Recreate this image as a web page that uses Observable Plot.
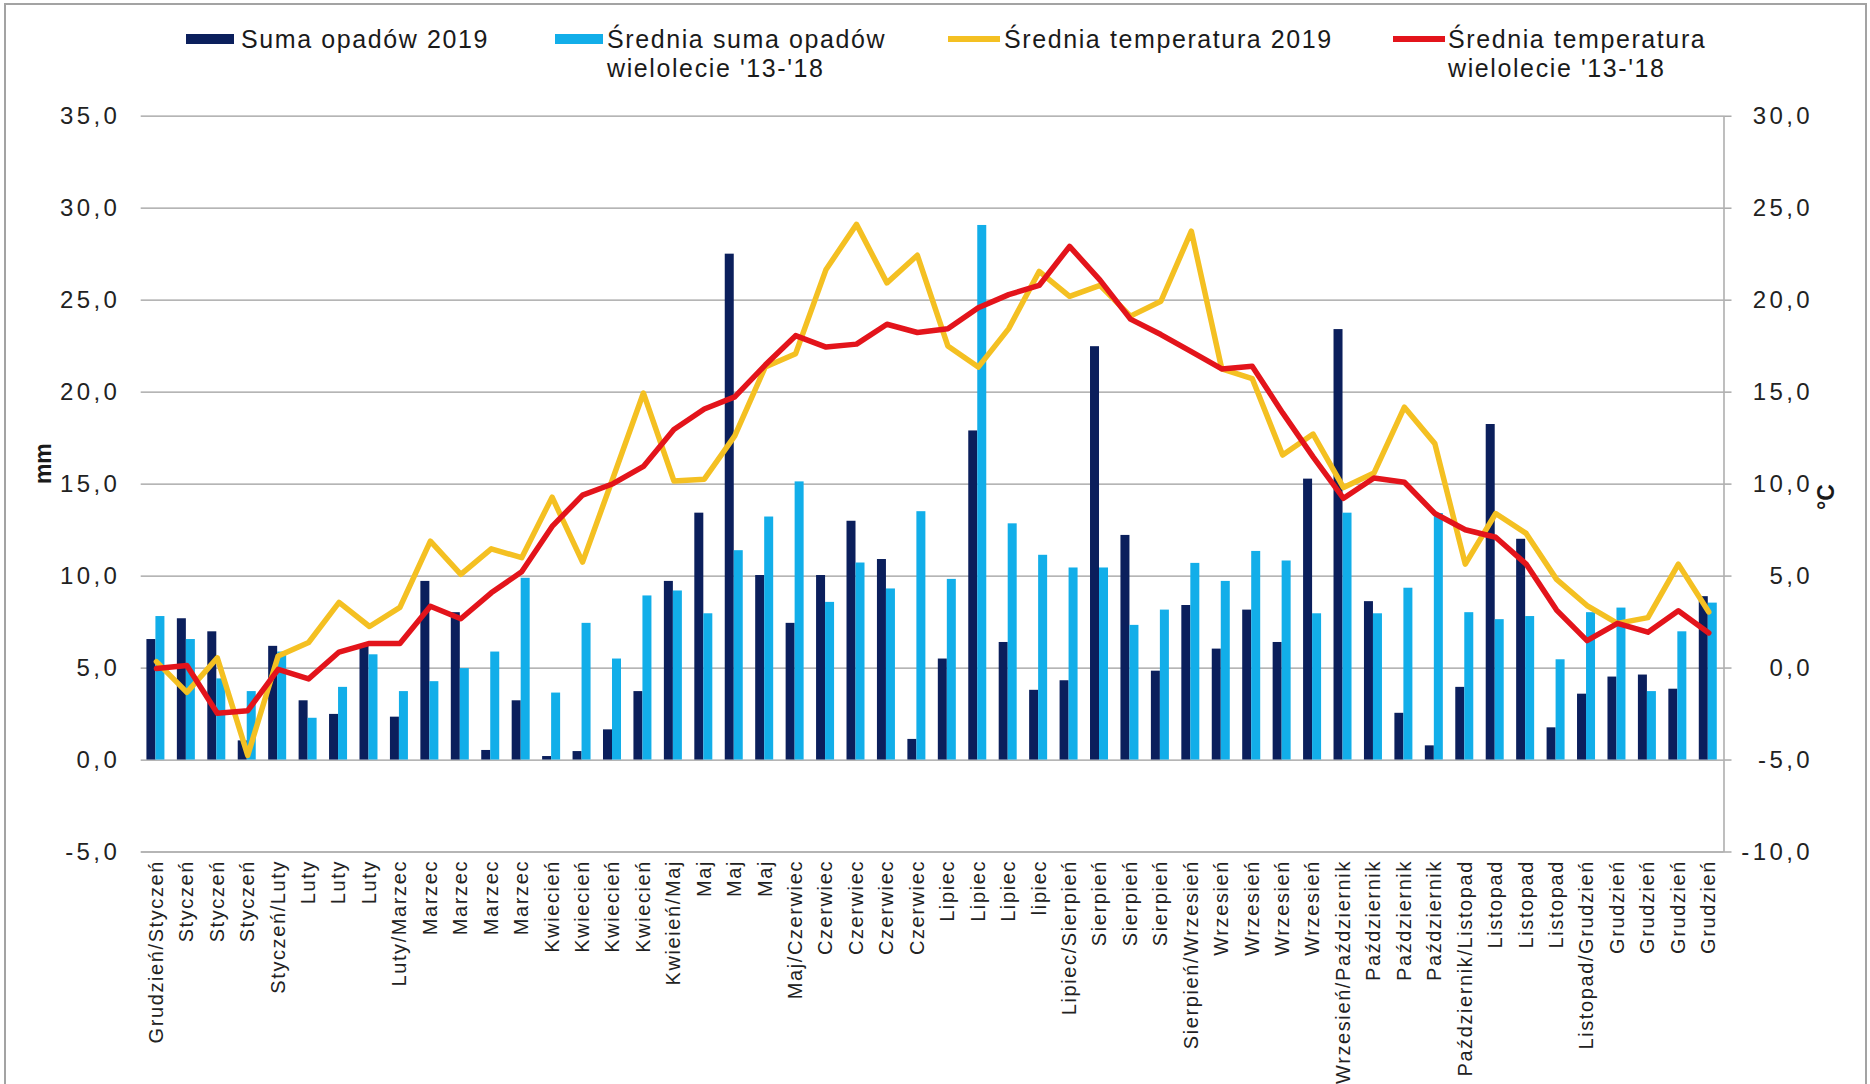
<!DOCTYPE html>
<html>
<head>
<meta charset="utf-8">
<script src="https://cdn.jsdelivr.net/npm/d3@7"></script>
<script src="https://cdn.jsdelivr.net/npm/@observablehq/plot@0.6"></script>
<style>
  html, body { margin: 0; padding: 0; background: #fff; }
  body { width: 1870px; height: 1084px; overflow: hidden; position: relative;
         font-family: "Liberation Sans", Arial, sans-serif; color: #1a1a1a; }
  #border { position: absolute; left: 4px; top: 3px; width: 1863px; height: 1200px;
            border: 2px solid #a3a3a3; box-sizing: border-box; pointer-events: none; }
  #legend { position: relative; height: 92px; }
  .sw { position: absolute; }
  .lt { position: absolute; top: 25px; font-size: 25px; line-height: 29px; letter-spacing: 1.6px; white-space: nowrap; }
  #chart svg { display: block; }
  g[aria-label="y-axis tick label"] text { letter-spacing: 3.4px; }
  g[aria-label="x-axis tick label"] text { letter-spacing: 1.6px; }
</style>
</head>
<body>
<div id="border"></div>
<div id="legend"></div>
<div id="chart"></div>
<script>
// ---- data ----
const labels = ["Grudzień/Styczeń","Styczeń","Styczeń","Styczeń","Styczeń/Luty","Luty","Luty","Luty","Luty/Marzec","Marzec","Marzec","Marzec","Marzec","Kwiecień","Kwiecień","Kwiecień","Kwiecień","Kwieień/Maj","Maj","Maj","Maj","Maj/Czerwiec","Czerwiec","Czerwiec","Czerwiec","Czerwiec","Lipiec","Lipiec","Lipiec","lipiec","Lipiec/Sierpień","Sierpień","Sierpień","Sierpień","Sierpień/Wrzesień","Wrzesień","Wrzesień","Wrzesień","Wrzesień","Wrzesień/Październik","Październik","Październik","Październik","Październik/Listopad","Listopad","Listopad","Listopad","Listopad/Grudzień","Grudzień","Grudzień","Grudzień","Grudzień"];

const precip2019 = [6.55, 7.68, 6.97, 1.04, 6.18, 3.22, 2.48, 6.2, 2.33, 9.71, 8.01, 0.52, 3.22, 0.19,
  0.46, 1.64, 3.72, 9.71, 13.42, 27.5, 10.03, 7.43, 10.03, 12.98, 10.9, 1.12, 5.49, 17.89, 6.39,
  3.79, 4.31, 22.47, 12.21, 4.83, 8.4, 6.03, 8.15, 6.39, 15.27, 23.4, 8.61, 2.54, 0.77,
  3.95, 18.24, 12.0, 1.75, 3.58, 4.51, 4.62, 3.85, 8.88];

const precipAvg = [7.8, 6.55, 4.41, 3.72, 5.87, 2.27, 3.95, 5.72, 3.72, 4.26, 4.97, 5.87, 9.88, 3.64,
  7.43, 5.49, 8.92, 9.19, 7.95, 11.38, 13.21, 15.12, 8.57, 10.71, 9.3, 13.5, 9.82, 29.06,
  12.84, 11.13, 10.44, 10.44, 7.32, 8.15, 10.69, 9.71, 11.34, 10.82, 7.95, 13.42, 7.95, 9.34,
  13.4, 8.01, 7.63, 7.8, 5.45, 8.01, 8.26, 3.72, 6.97, 8.53];

const temp2019 = [0.35, -1.32, 0.55, -4.75, 0.66, 1.39, 3.57, 2.26, 3.3, 6.9, 5.09, 6.48, 6.0, 9.29,
  5.76, 10.33, 14.95, 10.17, 10.27, 12.62, 16.36, 17.09, 21.67, 24.12, 20.94, 22.44, 17.51, 16.36, 18.45,
  21.56, 20.21, 20.8, 19.13, 19.94, 23.75, 16.26, 15.74, 11.58, 12.72, 9.81, 10.6, 14.18, 12.2,
  5.65, 8.4, 7.32, 4.82, 3.4, 2.43, 2.74, 5.65, 3.05];

const tempAvg = [-0.03, 0.14, -2.46, -2.32, -0.07, -0.59, 0.87, 1.34, 1.34, 3.36, 2.68, 4.09, 5.23, 7.7,
  9.4, 10.02, 10.96, 12.97, 14.08, 14.74, 16.47, 18.07, 17.45, 17.61, 18.69, 18.24, 18.44, 19.59, 20.3,
  20.8, 22.92, 21.09, 18.97, 18.13, 17.2, 16.26, 16.41, 13.87, 11.48, 9.23, 10.33, 10.1, 8.4,
  7.52, 7.11, 5.65, 3.15, 1.49, 2.43, 1.95, 3.11, 1.91];

const leftTicks = [-5, 0, 5, 10, 15, 20, 25, 30, 35];      // mm
const rightTicks = [-10, -5, 0, 5, 10, 15, 20, 25, 30];    // °C
const seriesNames = ["Suma opadów 2019", "Średnia suma opadów\nwielolecie '13-'18",
                     "Średnia temperatura 2019", "Średnia temperatura\nwielolecie '13-'18"];
const yTitleLeft = "mm";
const yTitleRight = "°C";

// ---- styles ----
const colors = ["#0b1f5c", "#12aee9", "#f4c022", "#e3141b"];
const legendPos = [ // swatch left, text left, kind
  {sw: 186, tx: 241, kind: "bar"}, {sw: 555, tx: 607, kind: "bar"},
  {sw: 948, tx: 1004, kind: "line"}, {sw: 1393, tx: 1448, kind: "line"}];

// ---- legend ----
const legend = document.getElementById("legend");
seriesNames.forEach((name, k) => {
  const p = legendPos[k];
  const sw = document.createElement("div");
  sw.className = "sw";
  sw.style.left = p.sw + "px";
  sw.style.background = colors[k];
  if (p.kind === "bar") { sw.style.top = "34px"; sw.style.width = "48px"; sw.style.height = "10px"; }
  else { sw.style.top = "36px"; sw.style.width = "52px"; sw.style.height = "5.5px"; }
  legend.appendChild(sw);
  const t = document.createElement("div");
  t.className = "lt";
  t.style.left = p.tx + "px";
  t.innerHTML = name.split("\n").join("<br>");
  legend.appendChild(t);
});

// ---- chart ----
const W = 1870, H = 992;
const mL = 140.7, mR = 146.5, mT = 23.7, mB = 232.5;
const bw = (W - mL - mR) / labels.length;
const barW = 9;
const mmDomain = [leftTicks[0], leftTicks[leftTicks.length - 1]];
const tDomain = [rightTicks[0], rightTicks[rightTicks.length - 1]];
const shift = mmDomain[0] - tDomain[0];
const fmt = v => (v < 0 ? "-" : "") + Math.abs(v).toFixed(1).replace(".", ",");

const rows = labels.map((label, i) => ({
  i, label, p19: precip2019[i], pAvg: precipAvg[i], t19: temp2019[i], tAvg: tempAvg[i]
}));

const grid = "#9c9c9c";
const chart = Plot.plot({
  width: W, height: H,
  marginLeft: mL, marginRight: mR, marginTop: mT, marginBottom: mB,
  style: {fontFamily: "'Liberation Sans', Arial, sans-serif", background: "white", color: "#262626"},
  x: {type: "band", domain: d3.range(labels.length), padding: 0, round: false, axis: null},
  y: {domain: mmDomain, axis: null},
  marks: [
    Plot.gridY(leftTicks, {stroke: grid, strokeOpacity: 1, strokeWidth: 1.3}),
    Plot.frame({anchor: "right", stroke: grid, strokeWidth: 1.3}),
    Plot.axisY(leftTicks, {anchor: "left", tickSize: 0, tickPadding: 21, tickFormat: fmt,
      fontSize: 24, fill: "#222", label: null}),
    Plot.axisY(rightTicks.map(t => t + shift), {anchor: "right", tickSize: 7, tickPadding: 82,
      textAnchor: "end", tickFormat: d => fmt(d - shift), fontSize: 24,
      stroke: grid, strokeWidth: 1.3, fill: "#222", label: null}),
    Plot.axisX({anchor: "bottom", tickSize: 0, tickPadding: 8, tickRotate: -90,
      tickFormat: i => labels[i], fontSize: 20, fill: "#222", label: null}),
    Plot.barY(rows, {x: "i", y: "p19", fill: colors[0], insetLeft: bw / 2 - barW - 0.5, insetRight: bw / 2 + 0.5}),
    Plot.barY(rows, {x: "i", y: "pAvg", fill: colors[1], insetLeft: bw / 2 - 0.5, insetRight: bw / 2 - barW + 0.5}),
    Plot.line(rows, {x: "i", y: d => d.t19 + shift, stroke: colors[2], strokeWidth: 5.5}),
    Plot.line(rows, {x: "i", y: d => d.tAvg + shift, stroke: colors[3], strokeWidth: 5.5}),
    Plot.text([yTitleLeft], {text: d => d, frameAnchor: "left", dx: -98, rotate: -90,
      fontWeight: "bold", fontSize: 23, fill: "#1a1a1a"}),
    Plot.text([yTitleRight], {text: d => d, frameAnchor: "right", dx: 103, rotate: -90,
      fontWeight: "bold", fontSize: 23, fill: "#1a1a1a"})
  ]
});
document.getElementById("chart").appendChild(chart);
</script>
</body>
</html>
